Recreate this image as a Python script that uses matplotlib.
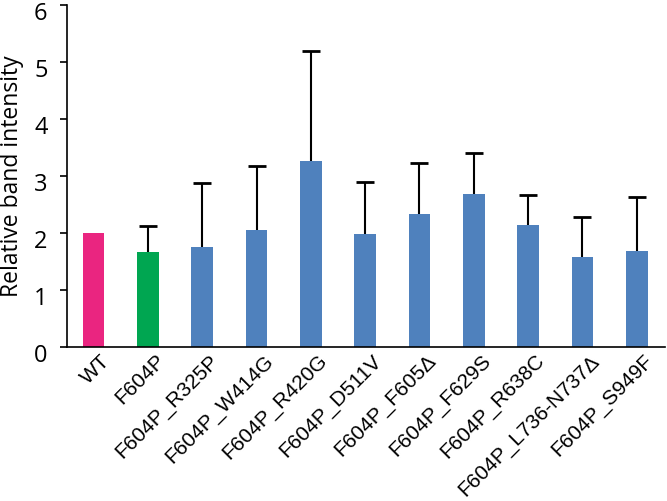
import numpy as np
import matplotlib
matplotlib.use('Agg')
import matplotlib.pyplot as plt
import matplotlib.transforms as mtransforms

labels = ['WT', 'F604P', 'F604P_R325P', 'F604P_W414G', 'F604P_R420G', 'F604P_D511V',
          'F604P_F605\u0394', 'F604P_F629S', 'F604P_R638C', 'F604P_L736-N737\u0394', 'F604P_S949F']
values = [2.0, 1.66, 1.76, 2.06, 3.26, 1.99, 2.34, 2.68, 2.14, 1.58, 1.68]
errors = [0.0, 0.47, 1.12, 1.12, 1.93, 0.90, 0.89, 0.72, 0.53, 0.70, 0.96]
colors = ['#EA2580', '#00A651'] + ['#4F81BD'] * 9

fig = plt.figure(figsize=(6.67, 5.01), dpi=100)
ax = fig.add_axes([0.1004, 0.3074, 0.8966, 0.6826])

x = np.arange(len(labels))
ax.bar(x, values, width=0.4, color=colors, zorder=2)
err = np.array(errors)
mask = err > 0
_, caps, _ = ax.errorbar(x[mask], np.array(values)[mask], yerr=[np.zeros(mask.sum()), err[mask]],
                         fmt='none', ecolor='black', elinewidth=1.5, capsize=6.5, capthick=2, zorder=3)
# only keep the upper caps
caps[0].set_visible(False)

ax.set_xlim(-0.49, 10.52)
ax.set_ylim(0, 6)
ax.set_yticks(range(7))
ax.set_yticklabels([str(i) for i in range(7)], fontsize=17, family='Open Sans')
ax.set_ylabel('Relative band intensity', fontsize=16.5, family='Open Sans', labelpad=7)
ax.set_xticks(x)
ax.set_xticklabels(labels, rotation=45, ha='right', rotation_mode='anchor',
                   fontsize=15, family='Liberation Sans')
ax.tick_params(axis='x', length=0, pad=3)
ax.tick_params(axis='y', length=5, width=1.2, pad=9)

# small nudges: y labels sit a bit below their ticks, x labels a bit right of the bars
down = mtransforms.ScaledTranslation(0, -6 / 100, fig.dpi_scale_trans)
for lab in ax.get_yticklabels():
    lab.set_transform(lab.get_transform() + down)
right = mtransforms.ScaledTranslation(7 / 100, 0, fig.dpi_scale_trans)
for lab in ax.get_xticklabels():
    lab.set_transform(lab.get_transform() + right)

for side in ['top', 'right']:
    ax.spines[side].set_visible(False)
ax.spines['left'].set_linewidth(1.2)
ax.spines['bottom'].set_linewidth(1.2)

fig.savefig('out.png', dpi=100)
